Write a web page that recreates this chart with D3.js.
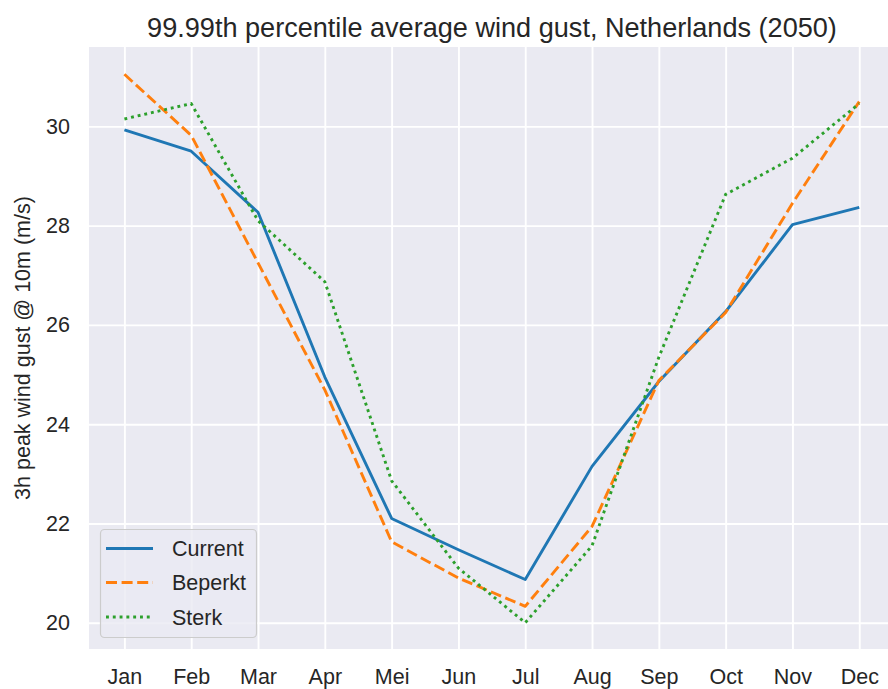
<!DOCTYPE html>
<html>
<head>
<meta charset="utf-8">
<script src="https://cdn.jsdelivr.net/npm/d3@7"></script>
<style>
  body { margin: 0; background: #fff; }
  svg { display: block; font-family: "Liberation Sans", Arial, sans-serif; }
</style>
</head>
<body>
<div id="chart"></div>
<script>
// values
const months = ["Jan", "Feb", "Mar", "Apr", "Mei", "Jun", "Jul", "Aug", "Sep", "Oct", "Nov", "Dec"];
const current = [29.93, 29.50, 28.27, 24.95, 22.10, 21.47, 20.87, 23.15, 24.86, 26.27, 28.02, 28.37];
const beperkt = [31.05, 29.82, 27.25, 24.69, 21.63, 20.90, 20.33, 21.94, 24.88, 26.25, 28.45, 30.50];
const sterk   = [30.15, 30.46, 28.10, 26.87, 22.86, 21.10, 20.00, 21.55, 25.35, 28.63, 29.36, 30.46];
const yTicks = [20, 22, 24, 26, 28, 30];

const seriesNames = ["Current", "Beperkt", "Sterk"];
const seriesColors = ["#1f77b4", "#ff7f0e", "#2ca02c"];
const seriesDash = [null, "11,4.6", "2.9,3.9"];

// layout
const width = 888, height = 689;
const plot = { left: 89, top: 47, right: 896, bottom: 649 };
const textColor = "#262626";

const svg = d3.select("#chart")
    .append("svg")
    .attr("width", width)
    .attr("height", height);

const x = d3.scaleLinear()
    .domain([-0.53, 11.55])
    .range([plot.left, plot.right]);

const y = d3.scaleLinear()
    .domain([19.47, 31.6])
    .range([plot.bottom, plot.top]);

// background
svg.append("rect")
    .attr("x", plot.left)
    .attr("y", plot.top)
    .attr("width", plot.right - plot.left)
    .attr("height", plot.bottom - plot.top)
    .style("fill", "#eaeaf2");

// grid via axes with full-length ticks
const xAxis = svg.append("g")
    .attr("transform", `translate(0,${plot.bottom})`)
    .call(d3.axisBottom(x)
        .tickValues(d3.range(months.length))
        .tickSize(-(plot.bottom - plot.top))
        .tickPadding(20)
        .tickFormat(i => months[i]));

const yAxis = svg.append("g")
    .attr("transform", `translate(${plot.left},0)`)
    .call(d3.axisLeft(y)
        .tickValues(yTicks)
        .tickSize(-(plot.right - plot.left))
        .tickPadding(19)
        .tickFormat(d3.format("d")));

[xAxis, yAxis].forEach(g => {
    g.select(".domain").remove();
    g.selectAll(".tick line")
        .style("stroke", "#ffffff")
        .style("stroke-width", 1.9);
    g.selectAll(".tick text")
        .style("fill", textColor)
        .style("font-size", "21.5px");
});
xAxis.selectAll(".tick text").attr("dy", "0.71em");

// lines
const line = d3.line()
    .x((d, i) => x(i))
    .y(d => y(d));

[current, beperkt, sterk].forEach((values, k) => {
    svg.append("path")
        .datum(values)
        .attr("d", line)
        .style("fill", "none")
        .style("stroke", seriesColors[k])
        .style("stroke-width", 2.9)
        .style("stroke-linejoin", "round")
        .style("stroke-dasharray", seriesDash[k]);
});

// title
svg.append("text")
    .attr("x", (plot.left + plot.right) / 2 - 0.5)
    .attr("y", 37)
    .attr("text-anchor", "middle")
    .style("fill", textColor)
    .style("font-size", "27.1px")
    .text("99.99th percentile average wind gust, Netherlands (2050)");

// y label
svg.append("text")
    .attr("transform", `translate(30,${(plot.top + plot.bottom) / 2}) rotate(-90)`)
    .attr("text-anchor", "middle")
    .style("fill", textColor)
    .style("font-size", "21.5px")
    .text("3h peak wind gust @ 10m (m/s)");

// legend
const legend = svg.append("g");
legend.append("rect")
    .attr("x", 100.5)
    .attr("y", 529.5)
    .attr("width", 156)
    .attr("height", 108)
    .attr("rx", 4)
    .style("fill", "#eaeaf2")
    .style("fill-opacity", 0.8)
    .style("stroke", "#cccccc")
    .style("stroke-width", 1.2);

const rowY = [548.5, 582.5, 617];
seriesNames.forEach((name, k) => {
    legend.append("line")
        .attr("x1", 106)
        .attr("x2", 153)
        .attr("y1", rowY[k])
        .attr("y2", rowY[k])
        .style("stroke", seriesColors[k])
        .style("stroke-width", 2.9)
        .style("stroke-dasharray", seriesDash[k]);
    legend.append("text")
        .attr("x", 172)
        .attr("y", rowY[k])
        .attr("dy", "0.35em")
        .style("fill", textColor)
        .style("font-size", "21.5px")
        .text(name);
});
</script>
</body>
</html>
